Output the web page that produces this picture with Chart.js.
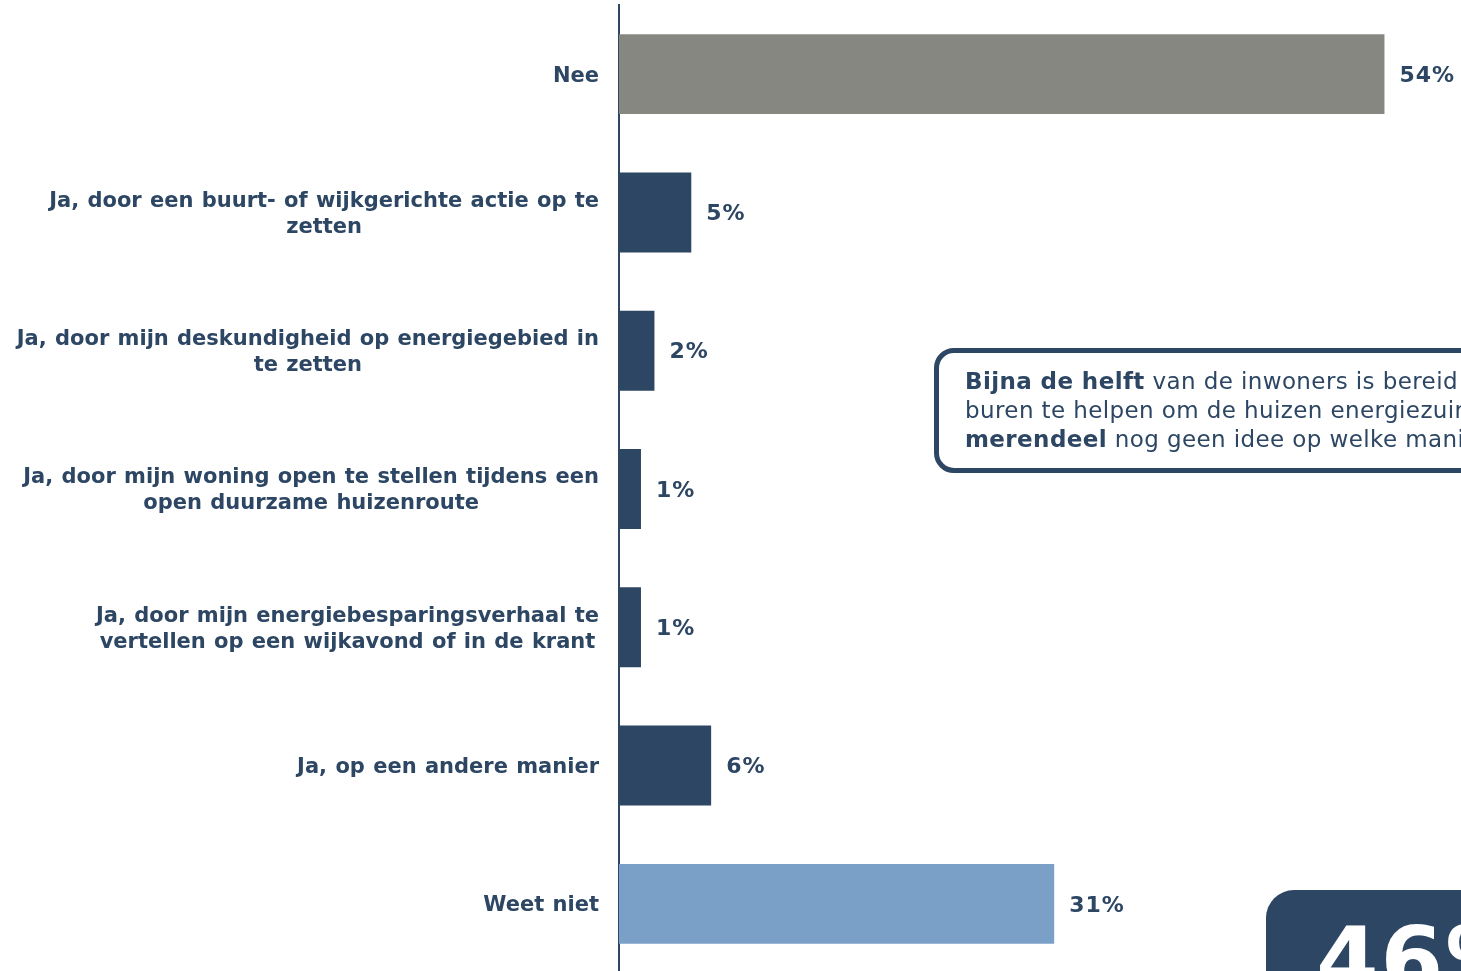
<!DOCTYPE html>
<html>
<head>
<meta charset="utf-8">
<script src="https://cdn.jsdelivr.net/npm/chart.js@4"></script>
<style>
    html, body { margin: 0; padding: 0; background: #fff; overflow: hidden; }
    body { width: 1461px; height: 971px; position: relative; font-family: "DejaVu Sans", Verdana, sans-serif; }
    #wrap { position: absolute; left: 0; top: 0; width: 1461px; height: 980px; }
    .callout {
        position: absolute; left: 934px; top: 348px; width: 700px; height: 101px;
        border: 5px solid #2c4663; border-radius: 20px; padding: 14px 0 0 26px;
        color: #2c4663; font-size: 23px; line-height: 29px; letter-spacing: 0.4px; white-space: nowrap;
    }
    .callout b { font-weight: bold; }
    .bigbox {
        position: absolute; left: 1266px; top: 890px; width: 400px; height: 200px;
        background: #2c4663; border-radius: 28px; color: #fff;
        font-weight: bold; font-size: 90px; line-height: 1; letter-spacing: 2px;
    }
    .bigbox span { position: absolute; left: 50px; top: 26px; }
</style>
</head>
<body>
<div id="wrap"><canvas id="barChart"></canvas></div>
<div class="callout">
    <div><b>Bijna de helft</b> van de inwoners is bereid om</div>
    <div>buren te helpen om de huizen energiezuiniger te maken. Wel heeft het</div>
    <div><b>merendeel</b> nog geen idee op welke manier.</div>
</div>
<div class="bigbox"><span>46%</span></div>
<script>
const navy = "#2c4663";

const categories = [
    ["Nee"],
    ["Ja, door een buurt- of wijkgerichte actie op te", "zetten"],
    ["Ja, door mijn deskundigheid op energiegebied in", "te zetten"],
    ["Ja, door mijn woning open te stellen tijdens een", "open duurzame huizenroute"],
    ["Ja, door mijn energiebesparingsverhaal te", "vertellen op een wijkavond of in de krant"],
    ["Ja, op een andere manier"],
    ["Weet niet"],
];
const values = [54, 5.1, 2.5, 1.55, 1.55, 6.5, 30.7];
const valueLabels = ["54%", "5%", "2%", "1%", "1%", "6%", "31%"];
const barColors = ["#878782", navy, navy, navy, navy, navy, "#7aa0c8"];

// labels left of the axis: block right-aligned, lines centred inside the block
const categoryLabels = {
    id: "categoryLabels",
    afterDraw: (chart) => {
        const { ctx, chartArea } = chart;
        const yScale = chart.scales.y;
        ctx.save();
        ctx.font = "bold 21px 'DejaVu Sans'";
        ctx.wordSpacing = "1px";
        ctx.fillStyle = navy;
        ctx.textAlign = "center";
        ctx.textBaseline = "middle";
        const lineH = 26;
        categories.forEach((lines, i) => {
            const maxW = Math.max(...lines.map((l) => ctx.measureText(l).width));
            const cx = chartArea.left - 20 - maxW / 2;
            const cy = yScale.getPixelForValue(i) + 2;
            lines.forEach((line, j) => {
                const y = cy + (j - (lines.length - 1) / 2) * lineH;
                ctx.fillText(line, cx, y);
            });
        });
        ctx.restore();
    },
};

const valueText = {
    id: "valueText",
    afterDatasetsDraw: (chart) => {
        const { ctx } = chart;
        ctx.save();
        ctx.font = "bold 22px 'DejaVu Sans'";
        ctx.letterSpacing = "1px";
        ctx.fillStyle = navy;
        ctx.textAlign = "left";
        ctx.textBaseline = "middle";
        chart.getDatasetMeta(0).data.forEach((bar, i) => {
            ctx.fillText(valueLabels[i], bar.x + 15, bar.y + 2);
        });
        ctx.restore();
    },
};

new Chart(document.getElementById("barChart"), {
    type: "bar",
    data: {
        labels: categories,
        datasets: [
            {
                data: values,
                backgroundColor: barColors,
                borderWidth: 0,
                barPercentage: 0.578,
                categoryPercentage: 1,
            },
        ],
    },
    options: {
        indexAxis: "y",
        responsive: true,
        maintainAspectRatio: false,
        animation: false,
        layout: { padding: { top: 5, bottom: 7, left: 0, right: 0 } },
        scales: {
            x: { display: false, min: 0, max: 59.4 },
            y: {
                ticks: { display: false },
                grid: { display: false, drawTicks: false },
                border: { display: true, color: navy, width: 2 },
                afterFit: (scale) => { scale.width = 619; },
            },
        },
        plugins: {
            legend: { display: false },
            tooltip: { enabled: false },
        },
    },
    plugins: [categoryLabels, valueText],
});
</script>
</body>
</html>
